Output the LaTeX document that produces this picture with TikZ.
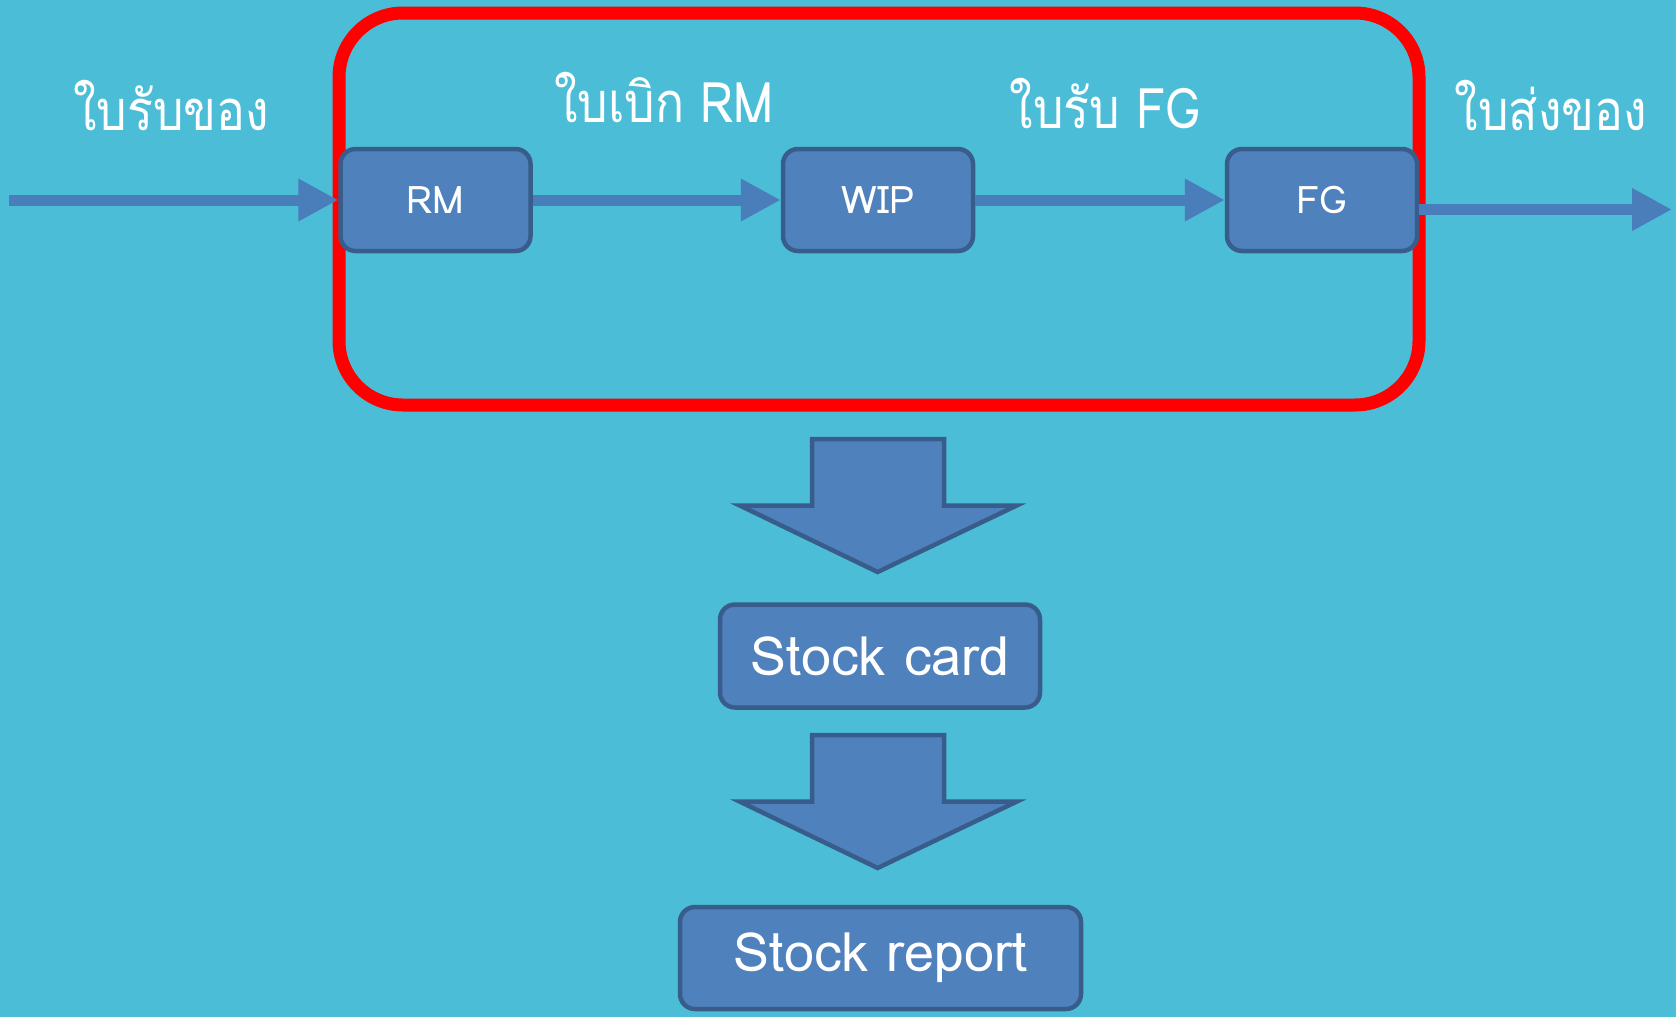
\documentclass[tikz,border=0pt]{standalone}
\usepackage{fontspec}
\usetikzlibrary{arrows.meta}
\newfontfamily\thaifont[Script=Thai]{Loma}
\newfontfamily\thailbl[Script=Thai,FakeStretch=0.86]{Loma}
\definecolor{bgc}{RGB}{76,189,215}
\definecolor{boxfill}{RGB}{79,129,189}
\definecolor{boxline}{RGB}{56,93,138}
\definecolor{arrc}{RGB}{74,126,187}
\tikzset{
  x=1pt,y=-1pt,
  procbox/.style={draw=boxline, fill=boxfill, line width=4.5pt, rounded corners=15pt,
    minimum width=190pt, minimum height=102pt, inner sep=0pt, text=white,
    font=\thaifont\fontsize{38}{40}\selectfont},
  stockbox/.style={procbox, font=\thaifont\fontsize{54}{58}\selectfont},
  flowarrow/.style={arrc, line width=11pt, -{Triangle[length=40pt,width=40pt]}},
  bigarrow/.style={draw=boxline, fill=boxfill, line width=4.5pt, line join=miter},
  lbl/.style={text=white, inner sep=0pt, font=\thailbl\fontsize{56}{60}\selectfont},
  frame/.style={draw=red, line width=13pt, rounded corners=64pt}
}
\begin{document}
\begin{tikzpicture}
\fill[bgc] (0,0) rectangle (1676,1017);
\useasboundingbox (0,0) rectangle (1676,1017);
% red frame
\draw[frame] (339,13) rectangle (1419,405);
% boxes
\node[procbox] (rm)  at (435.5,200) {RM};
\node[procbox] (wip) at (878,200) {WIP};
\node[procbox] (fg)  at (1322,200) {FG};
\coordinate (in)  at (9,200);
\coordinate (out) at (1672,209.5);
% flow arrows
\draw[flowarrow] (in) -- (rm.west);
\draw[flowarrow] (rm.east) -- (wip.west);
\draw[flowarrow] (wip.east) -- (fg.west);
\draw[flowarrow] (fg.east |- out) -- (out);
% labels
\node[lbl] (l1) at (171,106) {ใบรับของ};
\node[lbl] (l2) at (664,98) {ใบเบิก RM};
\node[lbl] (l3) at (1105,104) {ใบรับ FG};
\node[lbl] (l4) at (1551,106) {ใบส่งของ};
% big arrows
\draw[bigarrow] (812,439) -- (944,439) -- (944,505.6) -- (1016.5,505.6) -- (877.6,572) -- (740,505.6) -- (812,505.6) -- cycle;
\node[stockbox, minimum width=320pt, minimum height=103pt] (card) at (880,656) {Stock card};
\draw[bigarrow] (812,735) -- (944,735) -- (944,801.7) -- (1016.5,801.7) -- (877.6,868) -- (740,801.7) -- (812,801.7) -- cycle;
\node[stockbox, minimum width=401pt, minimum height=102pt] (report) at (880.5,958) {Stock report};
\end{tikzpicture}
\end{document}
